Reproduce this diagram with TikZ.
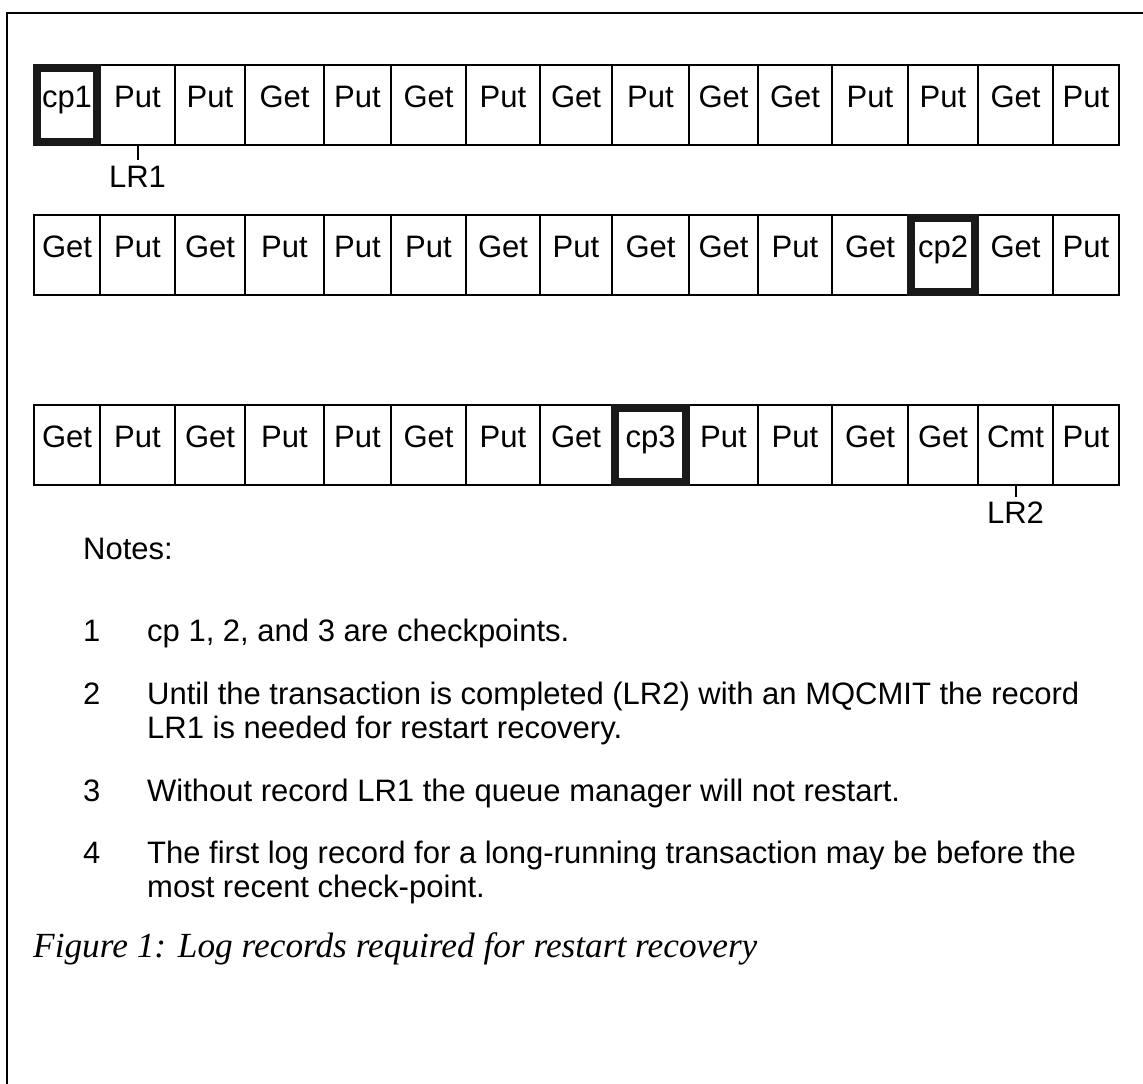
\documentclass[tikz,border=0pt]{standalone}
\usepackage{fontspec}
\setmainfont{Liberation Sans}
\newfontfamily\capfont{Liberation Serif}
\usetikzlibrary{positioning}

\def\cellx{{33,99,174,244,323,390,465,539,611,688,757,831,907,977,1052,1118}}

\begin{document}
\begin{tikzpicture}[x=1pt, y=-1pt,
    logcell/.style={draw, line width=2pt, anchor=north west, inner xsep=0pt, inner ysep=0pt,
      text height=42pt, text depth=38pt, font=\fontsize{31}{34}\selectfont},
    cpframe/.style={draw=black!90, line width=8pt},
    lrlabel/.style={inner sep=0pt, font=\fontsize{31}{34}\selectfont},
    note/.style={anchor=base west, inner sep=0pt, align=left, font=\fontsize{31}{34}\selectfont},
  ]
			\useasboundingbox (0,0) rectangle (1143,1084);
			\draw[line width=1.5pt] (7,1084) -- (7,13) -- (1143,13);
			% log, first part
			\foreach \lbl [count=\i] in {cp1,Put,Put,Get,Put,Get,Put,Get,Put,Get,Get,Put,Put,Get,Put}{
				\pgfmathsetmacro\xa{\cellx[\i-1]}
				\pgfmathsetmacro\cw{\cellx[\i]-\cellx[\i-1]}
				\node[logcell, minimum width=\cw pt] (r1c\i) at (\xa,64) {\lbl};
			}
			% log, second part
			\foreach \lbl [count=\i] in {Get,Put,Get,Put,Put,Put,Get,Put,Get,Get,Put,Get,cp2,Get,Put}{
				\pgfmathsetmacro\xa{\cellx[\i-1]}
				\pgfmathsetmacro\cw{\cellx[\i]-\cellx[\i-1]}
				\node[logcell, minimum width=\cw pt] (r2c\i) at (\xa,214) {\lbl};
			}
			% log, third part
			\foreach \lbl [count=\i] in {Get,Put,Get,Put,Put,Get,Put,Get,cp3,Put,Put,Get,Get,Cmt,Put}{
				\pgfmathsetmacro\xa{\cellx[\i-1]}
				\pgfmathsetmacro\cw{\cellx[\i]-\cellx[\i-1]}
				\node[logcell, minimum width=\cw pt] (r3c\i) at (\xa,404) {\lbl};
			}
			% checkpoints
			\foreach \c in {r1c1, r2c13, r3c9}{
				\draw[cpframe] ([shift={(4,4)}]\c.north west) rectangle ([shift={(-4,-4)}]\c.south east);
			}
			\node[lrlabel, below=20pt of r1c2.south] (lr1) {LR1};
			\draw[line width=2pt] (r1c2.south) -- ([yshift=6pt]lr1.north);
			\node[lrlabel, below=16pt of r3c14.south] (lr2) {LR2};
			\draw[line width=2pt] (r3c14.south) -- ([yshift=5pt]lr2.north);
			% notes
			\node[note] (notes) at (83,559) {Notes:};
			\node[note] (n1) at (83,641) {1};
			\node[note] (t1) at (147,641) {cp 1, 2, and 3 are checkpoints.};
			\node[note] (n2) at (83,704) {2};
			\node[note] (t2) at (147,738) {Until the transaction is completed (LR2) with an MQCMIT the record\\LR1 is needed for restart recovery.};
			\node[note] (n3) at (83,801) {3};
			\node[note] (t3) at (147,801) {Without record LR1 the queue manager will not restart.};
			\node[note] (n4) at (83,863) {4};
			\node[note] (t4) at (147,897) {The first log record for a long-running transaction may be before the\\most recent check-point.};
			\node[anchor=base west, inner sep=0pt, font=\capfont\itshape\fontsize{35.3}{40}\selectfont] (caption) at (33,957) {Figure 1: Log records required for restart recovery};
		\end{tikzpicture}
\end{document}
